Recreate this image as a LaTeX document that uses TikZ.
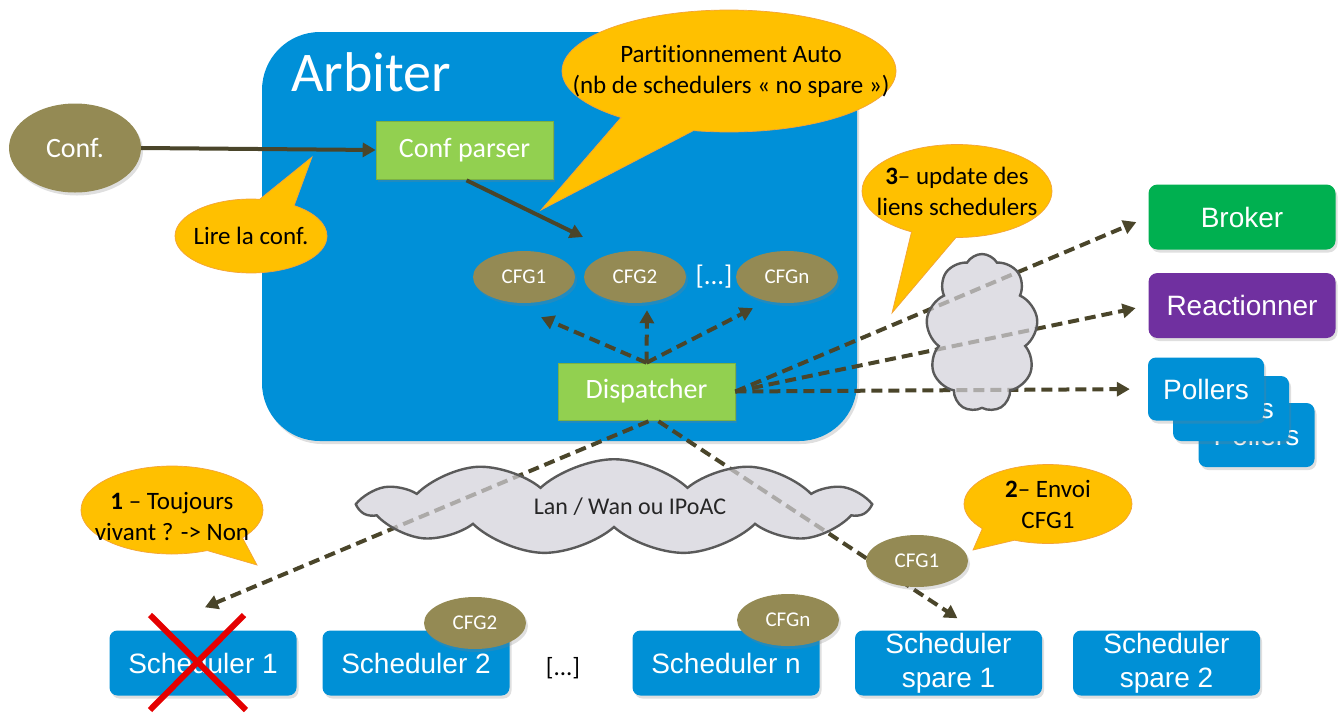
\documentclass[tikz,border=0pt]{standalone}
\usepackage{fontspec}
\setmainfont[Ligatures=NoCommon]{Carlito}
\newfontfamily\arialf{Liberation Sans}
\usetikzlibrary{shapes.geometric,shapes.callouts,shapes.symbols,arrows.meta,shadows,calc}
\definecolor{arbblue}{HTML}{0090D8}
\definecolor{sblue}{HTML}{0090D6}
\definecolor{cgreen}{HTML}{92D050}
\definecolor{olivec}{HTML}{948A54}
\definecolor{corange}{HTML}{FFC000}
\definecolor{corangeb}{HTML}{F3A33A}
\definecolor{darrow}{HTML}{4A452A}
\definecolor{bgreen}{HTML}{00B050}
\definecolor{rpurple}{HTML}{7030A0}
\definecolor{cloudf}{HTML}{D3D1DA}
\definecolor{cloudd}{HTML}{5A5A5A}
\tikzset{
  shad/.style={drop shadow={opacity=0.25,shadow xshift=2pt,shadow yshift=-3pt}},
  sbox/.style={rounded corners=8pt,fill=sblue,text=white,shad,
    font=\arialf\fontsize{28}{34}\selectfont,minimum width=187pt,minimum height=65pt,
    align=center,inner sep=0pt},
  gbox/.style={fill=cgreen,draw=cgreen!85!black,line width=0.6pt,text=white,shad,
    font=\fontsize{28}{30}\selectfont,minimum height=57pt,inner sep=0pt},
  cfg/.style={ellipse,fill=olivec,text=white,shad,font=\fontsize{21}{23}\selectfont,
    minimum width=102pt,minimum height=52pt,inner sep=0pt},
  callout/.style={ellipse callout,fill=corange,draw=corangeb,line width=0.7pt,
    inner sep=0pt,callout pointer arc=28},
  ctext/.style={font=\fontsize{25}{31}\selectfont,align=center,inner sep=0pt},
  flow/.style={draw=darrow,line width=4pt,-{Triangle[length=13pt,width=14pt]}},
  dflow/.style={flow,dash pattern=on 11pt off 6pt},
  cloudy/.style={cloud,draw=cloudd,line width=2.4pt,fill=cloudf,fill opacity=0.72,
    text opacity=1,inner sep=0pt},
  xline/.style={draw=red!90!black,line width=6pt}
}
\begin{document}
\begin{tikzpicture}[x=1pt,y=-1pt]
\useasboundingbox (0,0) rectangle (1339,713);
% Arbiter frame
\node[fill=arbblue,rounded corners=58pt,minimum width=595pt,minimum height=409pt,
  inner sep=0pt,shad] (arb) at (559.5,236.5) {};
\node[text=white,font=\fontsize{56}{60}\selectfont,anchor=west] (arbt) at (288,72) {Arbiter};

% Conf and parser
\node[ellipse,fill=olivec,text=white,shad,font=\fontsize{28}{30}\selectfont,
  minimum width=132pt,minimum height=89pt,inner sep=0pt] (conf) at (75,148) {Conf.};
\node[gbox,minimum width=177pt,minimum height=58pt] (cp) at (464.5,150) {Conf parser};
\draw[flow] (conf.east) -- (cp.west);
\coordinate (cpend) at (583,237);
\draw[flow] ($(cp.south)+(2,1)$) -- (cpend);

% CFG ellipses in arbiter
\node[cfg] (c1) at (524,277) {CFG1};
\node[cfg] (c2) at (635,277) {CFG2};
\node[text=white,font=\fontsize{27}{29}\selectfont] (cdots) at (714,277) {[...]};
\node[cfg] (cn) at (787,277) {CFGn};

% Dispatcher
\node[gbox,minimum width=177pt] (disp) at (646.5,391.5) {Dispatcher};
\draw[dflow] (disp.north) -- ($(c1.south)+(17,14)$);
\draw[dflow] (disp.north) -- ($(c2.south)+(12,7)$);
\draw[dflow] (disp.north) -- ($(cn.south)+(-34,5)$);

% Right side nodes
\node[sbox,rounded corners=9pt,fill=bgreen] (broker) at (1242,217) {Broker};
\node[sbox,rounded corners=9pt,fill=rpurple] (reac) at (1242,305.5) {Reactionner};
\node[sbox,minimum width=116pt,minimum height=64pt] (p3) at (1256.5,435) {Pollers};
\node[sbox,minimum width=116pt,minimum height=65pt] (p2) at (1231,408.5) {Pollers};
\node[sbox,minimum width=116pt,minimum height=63pt] (p1) at (1206,389) {Pollers};
\draw[dflow,shorten >=13pt] (disp.east) -- (broker.west);
\draw[dflow,shorten >=13pt] (disp.east) -- (reac.west);
\draw[dflow,shorten >=18pt] (disp.east) -- (p1.west);

% Schedulers
\node[sbox] (s1) at (203,663) {Scheduler 1};
\node[sbox] (s2) at (416,663) {Scheduler 2};
\node[font=\fontsize{25}{27}\selectfont] (sdots) at (563,668) {[...]};
\node[sbox] (sn) at (726,663) {Scheduler n};
\node[sbox] (sp1) at (948.5,663) {\raisebox{-3pt}{Scheduler}\\\raisebox{-3pt}{spare 1}};
\node[sbox] (sp2) at (1166.5,663) {\raisebox{-3pt}{Scheduler}\\\raisebox{-3pt}{spare 2}};

% Dispatcher to schedulers
\draw[dflow] ($(disp.south)+(2,1)$) -- ($(s1.north)+(2,-23)$);
\draw[dflow] ($(disp.south)+(12,1)$) -- ($(sp1.north)+(9,-12)$);

% clouds
\node[cloudy,cloud puffs=11,cloud puff arc=85,aspect=5,minimum width=505pt,minimum height=88pt,
  font=\fontsize{24}{26}\selectfont,text=black!85] (lan) at (614,507) {\hspace{32pt}Lan / Wan ou IPoAC};
\node[cloudy,cloud puffs=9,cloud puff arc=120,aspect=0.7,minimum width=112pt,minimum height=158pt] (wan2) at (982,333) {};

% CFG on the wire and on schedulers
\node[cfg] (cw) at (917,561) {CFG1};
\node[cfg] (cs2) at (475,623) {CFG2};
\node[cfg] (csn) at (788,620) {CFGn};

% Red cross
\draw[xline] ($(s1.center)+(-53,-48)$) -- ($(s1.center)+(43,47)$);
\draw[xline] ($(s1.center)+(41,-48)$) -- ($(s1.center)+(-53,47)$);

% callouts
\node[callout,minimum width=152pt,minimum height=74pt,callout absolute pointer={(312,157)}] (lire) at (251,236) {};
\node[ctext] (lireT) at (lire.center) {Lire la conf.};
\node[callout,minimum width=334pt,minimum height=122pt,callout absolute pointer={(541,210)}] (part) at (729,71) {};
\node[ctext] (partT) at ($(part.center)+(2,0)$) {Partitionnement Auto\\(nb de schedulers « no spare »)};
\node[callout,minimum width=190pt,minimum height=93pt,callout absolute pointer={(892,313)}] (upd) at (957,191) {};
\node[ctext] (updT) at (upd.center) {\textbf{3}– update des\\liens schedulers};
\node[callout,minimum width=182pt,minimum height=88pt,callout absolute pointer={(257,565)}] (tj) at (172,510) {};
\node[ctext] (tjT) at ($(tj.center)+(0,6)$) {\textbf{1} – Toujours\\vivant ? -> Non};
\node[callout,minimum width=168pt,minimum height=79pt,callout absolute pointer={(973,550)}] (env) at (1048,504) {};
\node[ctext] (envT) at (env.center) {\textbf{2}– Envoi\\CFG1};
\end{tikzpicture}
\end{document}
